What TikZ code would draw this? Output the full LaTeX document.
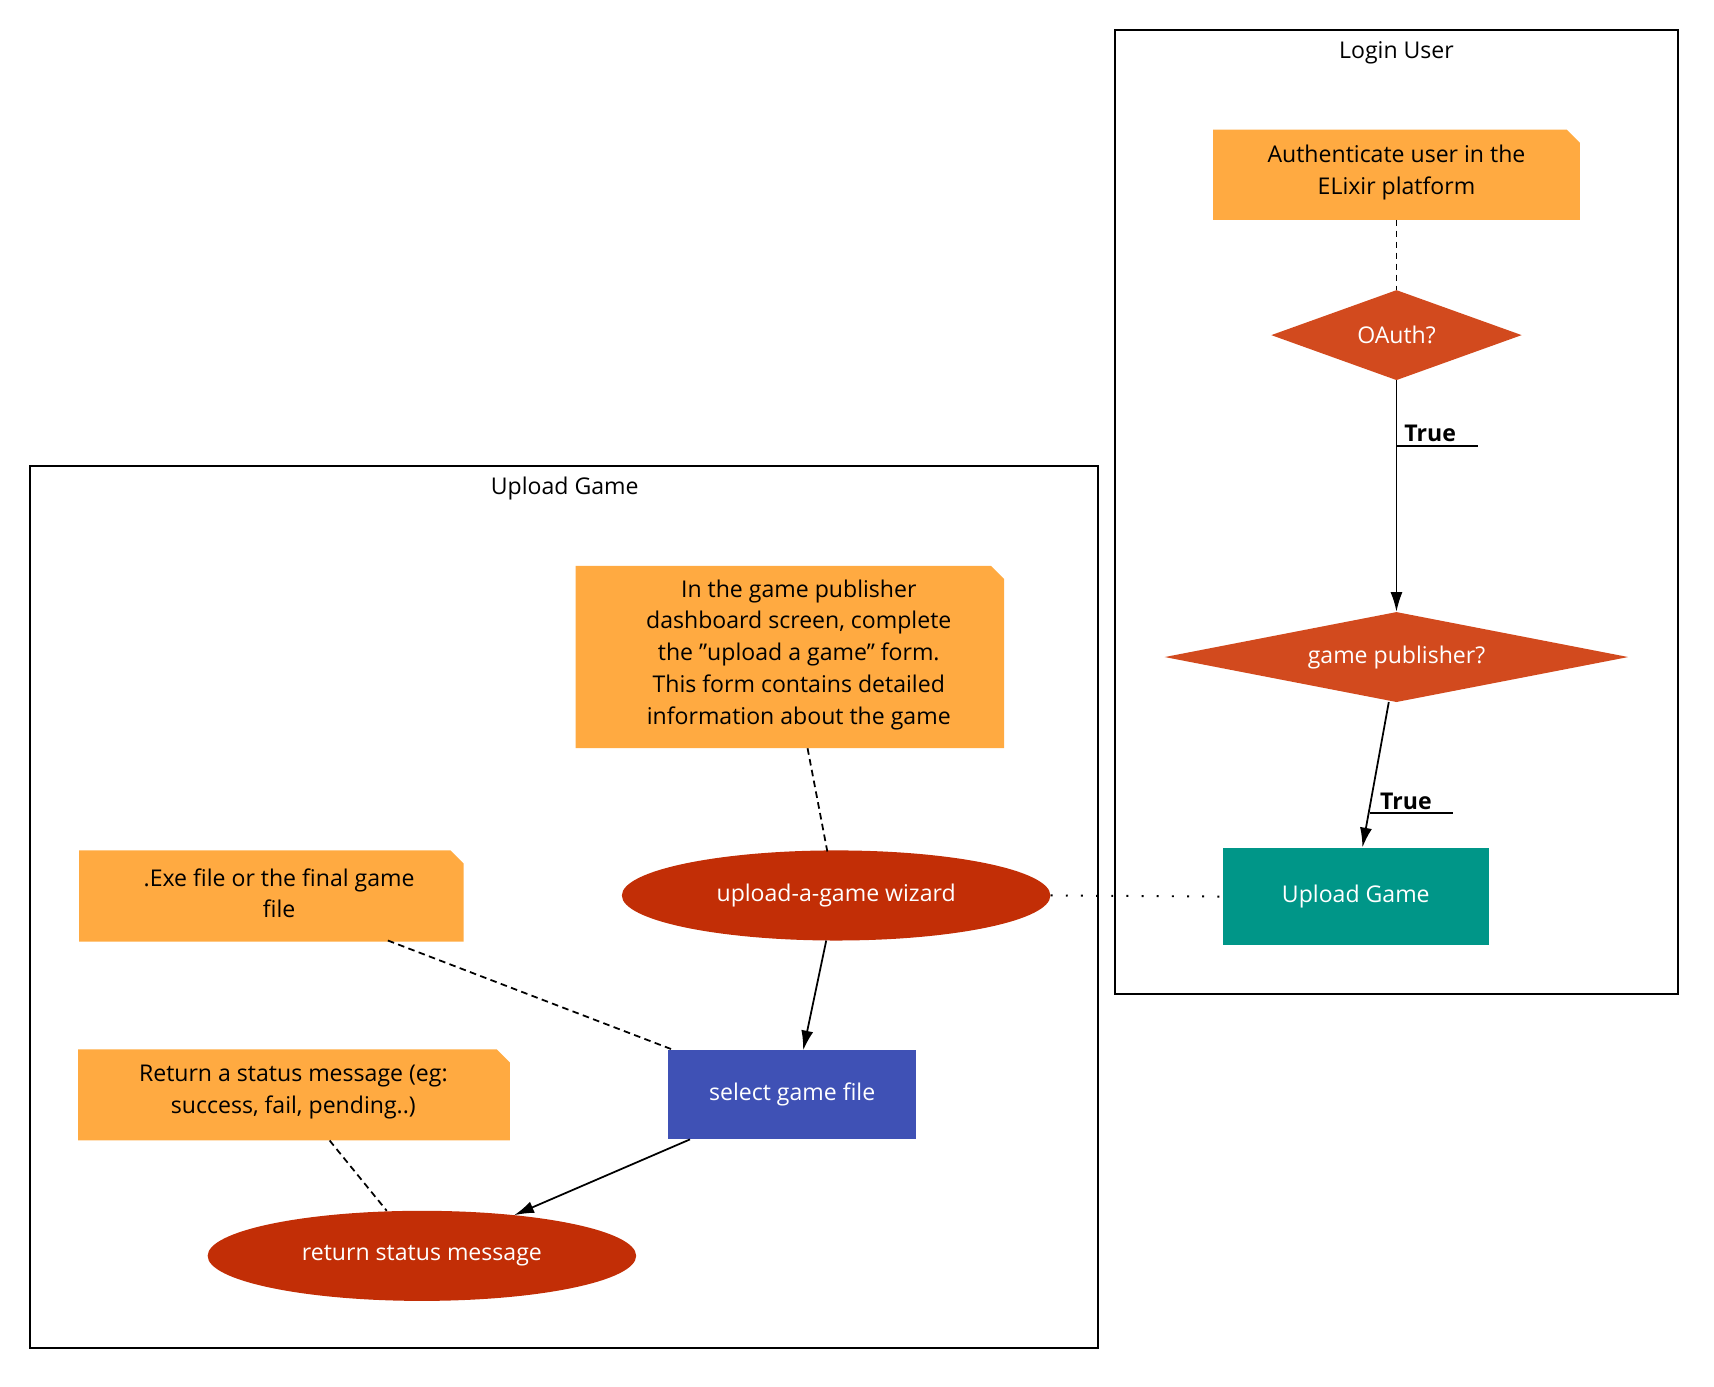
\documentclass[tikz,border=0pt]{standalone}
\usepackage{fontspec}
\setmainfont{Open Sans}
\usetikzlibrary{shapes.geometric,arrows.meta}
\definecolor{noteor}{RGB}{255,170,65}
\definecolor{diam}{RGB}{210,74,30}
\definecolor{ell}{RGB}{194,46,6}
\definecolor{teal}{RGB}{0,150,136}
\definecolor{blu}{RGB}{63,81,181}
\begin{document}
\begin{tikzpicture}[x=1pt,y=-1pt,
  every node/.style={font=\fontsize{21}{29}\selectfont, align=center, inner sep=0},
  cluster/.style={draw=black, line width=1.6pt},
  notefill/.style={fill=noteor},
  dia/.style={diamond, fill=diam, text=white, aspect=2.8},
  ell/.style={ellipse, fill=ell, text=white, minimum width=390pt, minimum height=82pt},
  boxn/.style={rectangle, text=white},
  arr/.style={-{Latex[length=18pt,width=11pt]}, line width=1.6pt},
  dsh/.style={dashed, line width=1.6pt, dash pattern=on 6pt off 4pt},
  lbl/.style={font=\fontsize{21}{29}\selectfont\bfseries}]
\useasboundingbox (0,0) rectangle (1560,1262);
% clusters
\draw[cluster] (1015,27) rectangle (1527,905);
\node (t1) at (1271,48) {Login User};
\draw[cluster] (27,424) rectangle (999,1227);
\node (t2) at (514,445) {Upload Game};
% notes
\fill[noteor] (1104,118) -- (1426,118) -- (1438,130) -- (1438,200) -- (1104,200) -- cycle;
\node (n1) at (1271,157) {Authenticate user in the\\ELixir platform};
\coordinate (n1b) at (1271,200);
\fill[noteor] (524,515) -- (902,515) -- (914,527) -- (914,681) -- (524,681) -- cycle;
\node (n2) at (727,596) {In the game publisher\\dashboard screen, complete\\the "upload a game" form.\\This form contains detailed\\information about the game};
\coordinate (n2b) at (735,681);
\fill[noteor] (72,774) -- (410,774) -- (422,786) -- (422,857) -- (72,857) -- cycle;
\node (n3) at (254,813) {.Exe file or the final game\\file};
\coordinate (n3b) at (353,856);
\fill[noteor] (71,955) -- (452,955) -- (464,967) -- (464,1038) -- (71,1038) -- cycle;
\node (n4) at (267,994) {Return a status message (eg:\\success, fail, pending..)};
\coordinate (n4b) at (300,1038);
% main nodes
\node[dia, minimum width=228pt, minimum height=82pt] (oauth) at (1271,305) {OAuth?};
\node[dia, minimum width=422pt, minimum height=82pt] (gp) at (1271,598) {game publisher?};
\node[boxn, fill=teal, minimum width=242pt, minimum height=89pt] (ug) at (1234,816) {Upload Game};
\node[ell] (wiz) at (761,815) {upload-a-game wizard};
\node[boxn, fill=blu, minimum width=226pt, minimum height=81pt] (sel) at (721,996) {select game file};
\node[ell] (ret) at (384,1143) {return status message};
% edges
\draw[dsh] (n1b) -- (oauth.north);
\draw[arr] (oauth.south) -- (gp.north);
\node[lbl, anchor=south west] (l1) at (1278,402) {True};
\draw[line width=1.6pt] (1271,406) -- (1345,406);
\draw[arr] (1264,639) -- (ug.north -| 1240,0);
\node[lbl, anchor=south west] (l2) at (1256,737) {True};
\draw[line width=1.6pt] (1247,740) -- (1322,740);
\draw[dsh] (n2b) -- (753,775);
\draw[dotted, line width=1.8pt, dash pattern=on 1.8pt off 12pt] (wiz.east) -- (ug.west);
\draw[arr] (752,856) -- (731,956);
\draw[dsh] (n3b) -- (614,956);
\draw[arr] (628,1037) -- (468,1106);
\draw[dsh] (n4b) -- (352,1102);
\end{tikzpicture}
\end{document}
